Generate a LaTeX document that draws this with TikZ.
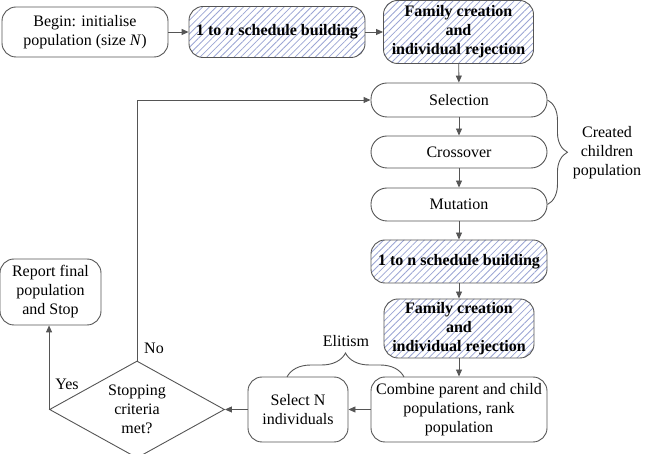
\documentclass[tikz,border=0pt]{standalone}
\usepackage{fontspec}
\setmainfont{Liberation Serif}
\usetikzlibrary{shapes.geometric,arrows.meta,patterns.meta,decorations.pathreplacing}
\definecolor{lc}{RGB}{85,85,85}
\definecolor{hatchc}{RGB}{155,165,212}
\begin{document}
\begin{tikzpicture}[x=1pt,y=-1pt,
 every node/.style={font=\fontsize{16}{19}\selectfont},
 box/.style={draw=lc,line width=0.9pt,rounded corners=14pt,align=center,inner sep=1pt},
 pill/.style={box,rounded corners=16pt},
 hatched/.style={box,pattern={Lines[angle=45,distance=4.8pt,line width=0.8pt]},pattern color=hatchc,font=\fontsize{16}{19}\selectfont\bfseries},
 arr/.style={draw=lc,line width=0.9pt,-{Triangle[length=7pt,width=6pt]}},
 brc/.style={draw=lc,line width=0.9pt,decorate,decoration={brace,amplitude=#1}},
 lbl/.style={align=center,inner sep=0pt}
]
\useasboundingbox (0,0) rectangle (649,454);
\node[box,minimum width=166pt,minimum height=50pt] (begin) at (85,32) {Begin: initialise\\population (size \textit{N})};
\node[hatched,minimum width=176pt,minimum height=51pt] (s1) at (277,32) {1 to \textit{n} schedule building};
\node[hatched,minimum width=150pt,minimum height=63pt] (f1) at (458.5,32) {Family creation\\and\\individual rejection};
\node[pill,minimum width=176pt,minimum height=34pt] (sel) at (459,100) {Selection};
\node[pill,minimum width=176pt,minimum height=32pt] (cross) at (459,152) {Crossover};
\node[pill,minimum width=176pt,minimum height=33pt] (mut) at (459,204.5) {Mutation};
\node[hatched,minimum width=176pt,minimum height=43pt] (s2) at (459,261.5) {1 to n schedule building};
\node[hatched,minimum width=150pt,minimum height=59pt] (f2) at (459,328.5) {Family creation\\and\\individual rejection};
\node[box,minimum width=176pt,minimum height=65pt] (comb) at (459,409.5) {Combine parent and child\\populations, rank\\population};
\node[box,minimum width=100pt,minimum height=65pt] (seln) at (298,409.5) {Select N\\individuals};
\node[draw=lc,line width=0.9pt,diamond,aspect=1.81,minimum width=175pt,minimum height=97pt,inner sep=0pt,align=center] (dia) at (137,409.5) {Stopping\\criteria\\met?};
\node[box,minimum width=101pt,minimum height=66pt] (report) at (50.5,292) {Report final\\population\\and Stop};
\node[lbl] (created) at (607,153) {Created\\children\\population};
\node[lbl] (elit) at (346,341) {Elitism};
\node[lbl] (yes) at (67,384) {Yes};
\node[lbl] (no) at (154,348) {No};
\coordinate (e1) at (287,377);
\coordinate (e2) at (404,377);
\draw[arr] (begin) -- (s1);
\draw[arr] (s1) -- (f1);
\draw[arr] (f1) -- (sel);
\draw[arr] (sel) -- (cross);
\draw[arr] (cross) -- (mut);
\draw[arr] (mut) -- (s2);
\draw[arr] (s2) -- (f2);
\draw[arr] (f2) -- (comb);
\draw[arr] (comb) -- (seln);
\draw[arr] (seln) -- (dia.east);
\draw[arr] (dia.north) |- (sel.west);
\draw[arr] (dia.west) -- (dia.west |- report.south);
\draw[brc=20pt] (sel.east) -- (mut.east);
\draw[brc=24pt] (e1) -- (e2);
\end{tikzpicture}
\end{document}
